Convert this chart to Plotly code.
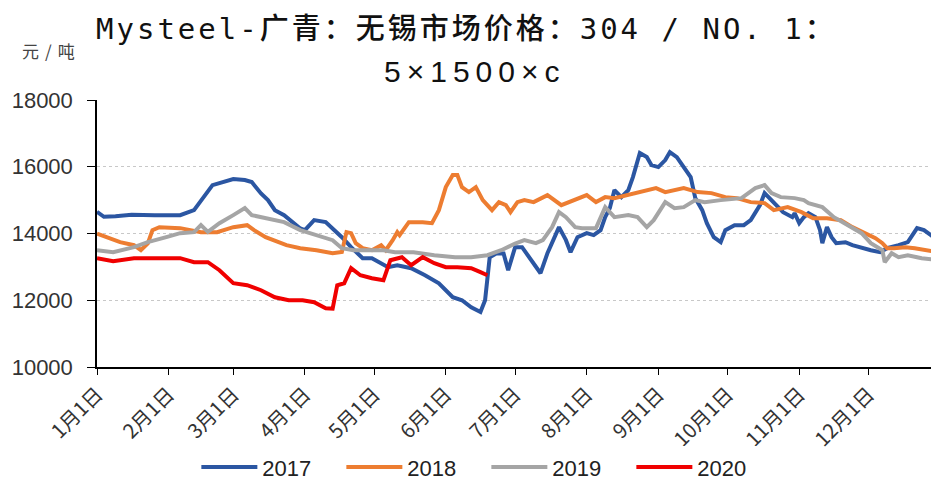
import datetime as dt
import plotly.graph_objects as go

# ---- data (day offset from Jan 1, price in 元/吨) ----
days_2017 = [0, 3, 8, 15, 25, 36, 42, 45, 50, 59, 64, 67, 71, 74, 77, 81, 85, 88, 90, 94, 99, 103, 106, 110, 115, 119,
             123, 126, 130, 136, 142, 148, 154, 158, 162, 166, 168, 170, 173, 176, 178, 181, 184, 187, 192, 195, 197,
             200, 203, 205, 208, 212, 215, 218, 220, 222, 224, 227, 230, 232, 235, 238, 240, 243, 246, 248, 251, 254,
             257, 259, 262, 264, 267, 270, 272, 276, 280, 283, 285, 287, 289, 291, 294, 297, 301, 302, 304, 306, 308,
             311, 313, 314, 316, 318, 320, 324, 327, 331, 335, 339, 342, 347, 351, 355, 358, 361, 364]
vals_2017 = [14650, 14500, 14520, 14560, 14550, 14550, 14700, 15000, 15450, 15630, 15600, 15540, 15200, 15000, 14700,
             14550, 14310, 14150, 14100, 14400, 14340, 14100, 13890, 13590, 13260, 13260, 13110, 12990, 13050, 12960,
             12750, 12510, 12090, 12000, 11790, 11650, 12000, 13290, 13410, 13400, 12900, 13590, 13590, 13290, 12810,
             13410, 13710, 14190, 13800, 13440, 13890, 14010, 13950, 14100, 14490, 14760, 15300, 15090, 15300, 15690,
             16410, 16290, 16050, 15990, 16200, 16440, 16290, 15990, 15690, 15060, 14700, 14310, 13890, 13740, 14100,
             14250, 14250, 14400, 14640, 14850, 15210, 15060, 14850, 14640, 14490, 14610, 14310, 14490, 14610, 14490,
             14100, 13710, 14190, 13890, 13710, 13740, 13650, 13560, 13500, 13440, 13560, 13650, 13740, 14160, 14100,
             13950, 13800]

days_2018 = [0, 4, 10, 16, 19, 22, 24, 27, 36, 45, 52, 59, 65, 68, 73, 82, 88, 95, 102, 106, 108, 110, 112, 115, 119,
             123, 125, 128, 130, 131, 135, 141, 145, 148, 151, 154, 156, 158, 161, 164, 167, 171, 174, 177, 179, 182,
             185, 189, 195, 201, 207, 212, 216, 220, 224, 230, 236, 242, 246, 254, 260, 266, 272, 277, 283, 289, 293,
             299, 305, 310, 316, 322, 327, 332, 337, 340, 342, 345, 350, 354, 360, 364]
vals_2018 = [14000, 13890, 13740, 13650, 13500, 13700, 14100, 14190, 14160, 14040, 14040, 14190, 14250, 14100, 13890,
             13650, 13560, 13500, 13410, 13450, 14040, 14010, 13710, 13560, 13500, 13650, 13500, 13800, 14040, 13950,
             14340, 14340, 14310, 14700, 15390, 15750, 15750, 15390, 15240, 15390, 15000, 14700, 14940, 14850, 14640,
             14940, 15000, 14940, 15150, 14850, 15000, 15150, 14940, 15090, 15060, 15150, 15240, 15360, 15240, 15360,
             15240, 15210, 15090, 15060, 14940, 14910, 14700, 14790, 14640, 14460, 14460, 14400, 14190, 14010, 13860,
             13710, 13560, 13560, 13590, 13560, 13500, 13440]

days_2019 = [0, 7, 16, 22, 30, 36, 42, 45, 48, 53, 59, 64, 67, 73, 81, 88, 95, 102, 106, 111, 117, 124, 129, 137, 146,
             155, 162, 169, 175, 181, 185, 190, 193, 197, 200, 203, 207, 210, 216, 220, 224, 230, 234, 238, 241, 246,
             250, 254, 259, 263, 270, 279, 285, 289, 292, 296, 302, 306, 308, 314, 319, 325, 331, 335, 340, 341, 344,
             347, 351, 357, 364]
vals_2019 = [13500, 13440, 13590, 13740, 13890, 14010, 14040, 14250, 14050, 14310, 14550, 14760, 14550, 14460, 14340,
             14100, 13950, 13800, 13560, 13500, 13500, 13500, 13440, 13440, 13350, 13290, 13290, 13350, 13500, 13700,
             13800, 13710, 13800, 14190, 14640, 14490, 14190, 14160, 14160, 14790, 14490, 14550, 14490, 14190, 14400,
             14940, 14760, 14790, 15000, 14940, 15000, 15060, 15360, 15450, 15210, 15090, 15060, 15000, 14910, 14790,
             14490, 14250, 14010, 13710, 13500, 13140, 13410, 13290, 13350, 13260, 13200]

days_2020 = [0, 7, 16, 36, 42, 48, 53, 59, 65, 71, 77, 83, 89, 94, 99, 102, 104, 107, 110, 114, 119, 124, 127, 132, 136,
             141, 146, 151, 156, 162, 166, 169]
vals_2020 = [13260, 13170, 13260, 13260, 13140, 13140, 12900, 12510, 12450, 12300, 12090, 12000, 12000, 11940, 11760,
             11750, 12450, 12510, 12960, 12750, 12660, 12600, 13200, 13290, 13050, 13290, 13110, 12990, 12990, 12960,
             12840, 12750]

tick_labels = ["1月1日", "2月1日", "3月1日", "4月1日", "5月1日", "6月1日",
               "7月1日", "8月1日", "9月1日", "10月1日", "11月1日", "12月1日"]
y_ticks = [10000, 12000, 14000, 16000, 18000]

series = [("2017", days_2017, vals_2017, "#2B56A2"),
          ("2018", days_2018, vals_2018, "#ED7D31"),
          ("2019", days_2019, vals_2019, "#A5A5A5"),
          ("2020", days_2020, vals_2020, "#F00000")]

base = dt.date(2001, 1, 1)


def to_dates(days):
    return [(base + dt.timedelta(days=d)).isoformat() for d in days]


fig = go.Figure()
for name, d, v, c in series:
    fig.add_trace(go.Scatter(x=to_dates(d), y=v, mode="lines", name=name,
                             line=dict(color=c, width=4)))

tick_vals = [dt.date(2001, m, 1).isoformat() for m in range(1, 13)]

# the page body has an 8px margin, so the figure is sized/offset to compensate
fig.update_layout(
    width=931, height=483,
    margin=dict(l=89, r=0, t=92, b=124),
    paper_bgcolor="white", plot_bgcolor="white",
    font=dict(family="Noto Sans CJK SC, Liberation Sans, sans-serif", color="#222"),
    showlegend=True,
    legend=dict(orientation="h", x=0.118, xanchor="left", y=-0.375, yanchor="middle",
                font=dict(size=22, family="Liberation Sans, sans-serif", color="#222"),
                itemwidth=56, entrywidth=74, entrywidthmode="pixels", tracegroupgap=0),
    xaxis=dict(type="date", range=["2001-01-01", "2001-12-31 12:00"], automargin=False,
               tickmode="array", tickvals=tick_vals, ticktext=tick_labels,
               tickangle=-45, ticks="outside", ticklen=6, tickcolor="#000",
               showline=True, linecolor="#000", linewidth=1.5,
               showgrid=False, zeroline=False,
               tickfont=dict(size=20, family="Noto Sans CJK SC", color="#333")),
    yaxis=dict(range=[10000, 18000], tickmode="array", tickvals=y_ticks,
               ticktext=[str(t) for t in y_ticks], automargin=False,
               ticks="outside", ticklen=8, tickcolor="#000", ticklabelstandoff=10,
               showline=True, linecolor="#000", linewidth=1.5,
               showgrid=True, gridcolor="#c8c8c8", griddash="dot", gridwidth=1,
               zeroline=False,
               tickfont=dict(size=22, family="Liberation Sans, sans-serif", color="#333")),
    annotations=[
        dict(text="<span style='letter-spacing:3px'>Mysteel-广青：无锡市场价格：304 / NO. 1：</span>",
             xref="paper", yref="paper",
             x=(466 - 97) / 842, y=(367 - 29) / 267, xanchor="center", yanchor="middle", showarrow=False,
             font=dict(size=29, family="DejaVu Sans Mono, Noto Sans CJK SC", color="#111", weight=500)),
        dict(text="<span style='letter-spacing:6px'>5×1500×c</span>", xref="paper", yref="paper",
             x=(474 - 97) / 842, y=(367 - 72) / 267, xanchor="center", yanchor="middle", showarrow=False,
             font=dict(size=30, family="Liberation Sans, sans-serif", color="#111")),
        dict(text="<span style='letter-spacing:6px'>元/吨</span>", xref="paper", yref="paper",
             x=(20 - 97) / 842, y=(367 - 50) / 267,
             xanchor="left", yanchor="middle", showarrow=False,
             font=dict(size=17, family="Noto Sans CJK SC", color="#444"))],
)

fig.write_html("out.html")
